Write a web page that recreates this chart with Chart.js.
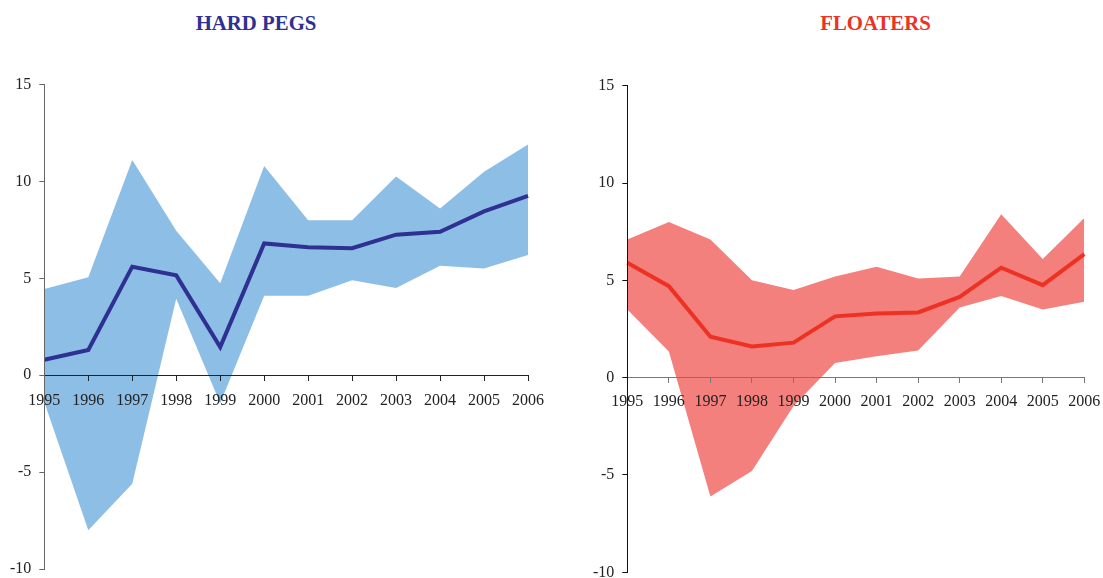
<!DOCTYPE html>
<html>
<head>
<meta charset="utf-8">
<script src="https://cdn.jsdelivr.net/npm/chart.js@4/dist/chart.umd.min.js"></script>
<style>
  html, body { margin: 0; padding: 0; background: #fff; overflow: hidden; }
  body { width: 1103px; height: 578px; position: relative; }
  canvas { position: absolute; top: 0; }
  .ttl { position: absolute; top: 13px; width: 240px; text-align: center;
         font: bold 20.8px "Liberation Serif", "Times New Roman", serif; line-height: 20px; }
</style>
</head>
<body>
<div class="ttl" id="t1" style="left:136px;color:#2e3192;">HARD PEGS</div>
<div class="ttl" id="t2" style="left:755.5px;color:#ed3224;">FLOATERS</div>
<canvas id="pegs" width="555" height="600" style="left:0px"></canvas>
<canvas id="floaters" width="560" height="600" style="left:551px"></canvas>
<script>
// Years on the horizontal axis
const years = ['1995','1996','1997','1998','1999','2000','2001','2002','2003','2004','2005','2006'];

// Hard pegs: mean and band
const pegMean  = [0.8, 1.3, 5.6, 5.15, 1.45, 6.8, 6.6, 6.55, 7.25, 7.4, 8.45, 9.25];
const pegUpper = [4.45, 5.05, 11.1, 7.45, 4.75, 10.8, 8.0, 8.0, 10.25, 8.6, 10.5, 11.9];
const pegLower = [-1.4, -8.0, -5.6, 3.95, -1.45, 4.1, 4.1, 4.9, 4.5, 5.65, 5.5, 6.2];

// Floaters: mean and band
const floatMean  = [5.9, 4.7, 2.1, 1.6, 1.8, 3.15, 3.3, 3.35, 4.15, 5.65, 4.75, 6.35];
const floatUpper = [7.1, 8.0, 7.1, 5.0, 4.5, 5.2, 5.7, 5.1, 5.2, 8.4, 6.1, 8.2];
const floatLower = [3.5, 1.35, -6.1, -4.8, -1.45, 0.75, 1.1, 1.4, 3.6, 4.2, 3.5, 3.9];

// Value axis ticks
const yTicks = { min: -10, max: 15, step: 5 };

const tickFont = { family: "'Liberation Serif', 'Times New Roman', serif", size: 16 };

function makeChart(id, mean, upper, lower, lineColor, bandColor, pad, yAxisColor, xAxisColor, xLabelPad) {
  return new Chart(document.getElementById(id), {
    type: 'line',
    data: {
      labels: years,
      datasets: [
        { data: mean, borderColor: lineColor, borderWidth: 4, pointRadius: 0, tension: 0, fill: false, order: 0 },
        { data: upper, borderColor: 'transparent', borderWidth: 0, pointRadius: 0, tension: 0,
          backgroundColor: bandColor, fill: '+1', order: 1 },
        { data: lower, borderColor: 'transparent', borderWidth: 0, pointRadius: 0, tension: 0, fill: false, order: 2 }
      ]
    },
    options: {
      responsive: false,
      animation: false,
      events: [],
      layout: { padding: pad },
      plugins: { legend: { display: false }, tooltip: { enabled: false }, title: { display: false } },
      scales: {
        x: {
          position: { y: 0 },
          offset: false,
          border: { display: true, color: xAxisColor, width: 1, z: 1 },
          grid: { drawOnChartArea: false, drawTicks: true, tickLength: 5, color: xAxisColor, z: 1 },
          ticks: { autoSkip: false, maxRotation: 0, color: '#222', font: tickFont, padding: xLabelPad, z: 1 }
        },
        y: {
          min: yTicks.min, max: yTicks.max,
          border: { display: true, color: yAxisColor, width: 1, z: 1 },
          grid: { drawOnChartArea: false, drawTicks: true, tickLength: 5, color: yAxisColor, z: 1 },
          ticks: { stepSize: yTicks.step, color: '#222', font: tickFont, padding: 8, z: 1 }
        }
      }
    }
  });
}

makeChart('pegs', pegMean, pegUpper, pegLower, '#2e3192', '#8dbee6',
  { left: 2, right: 26.7, top: 84.5, bottom: 31 }, '#666', '#222', 11);
makeChart('floaters', floatMean, floatUpper, floatLower, '#ed3224', '#f4807d',
  { left: 34, right: 26.7, top: 85.7, bottom: 27.7 }, '#111', '#777', 10);
</script>
</body>
</html>
